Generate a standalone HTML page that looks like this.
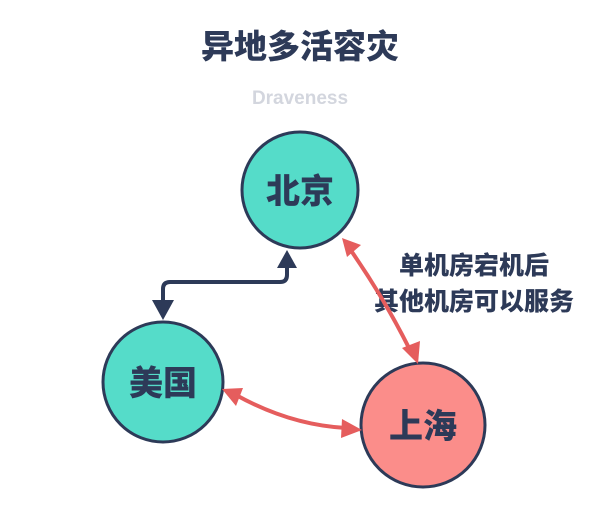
<!DOCTYPE html>
<html><head><meta charset="utf-8"><style>
body{margin:0;background:#fff;width:600px;height:518px;overflow:hidden}
</style></head><body>
<svg width="600" height="518" xmlns="http://www.w3.org/2000/svg" font-family="'Liberation Sans','Noto Sans CJK SC',sans-serif">
<text x="300" y="58" text-anchor="middle" font-size="33" font-weight="900" fill="#2d3a58">异地多活容灾</text>
<text x="300" y="104" text-anchor="middle" font-size="19" font-weight="bold" fill="#d3d6de">Draveness</text>
<circle cx="300" cy="190" r="58" fill="#55dcc9" stroke="#2d3a58" stroke-width="3"/>
<circle cx="163" cy="382" r="60" fill="#55dcc9" stroke="#2d3a58" stroke-width="3"/>
<circle cx="423" cy="425" r="62" fill="#fb8d8a" stroke="#2d3a58" stroke-width="3"/>
<text x="300" y="203" text-anchor="middle" font-size="34" font-weight="900" fill="#2d3a58">北京</text>
<text x="163" y="395" text-anchor="middle" font-size="34" font-weight="900" fill="#2d3a58">美国</text>
<text x="423" y="438" text-anchor="middle" font-size="34" font-weight="900" fill="#2d3a58">上海</text>
<text x="474" y="274" text-anchor="middle" font-size="25" font-weight="900" fill="#2d3a58">单机房宕机后</text>
<text x="474" y="310" text-anchor="middle" font-size="25" font-weight="900" fill="#2d3a58">其他机房可以服务</text>
<path d="M287 268 V275 Q287 282 280 282 H170 Q163 282 163 289 V300" fill="none" stroke="#2d3a58" stroke-width="4"/>
<polygon points="287,250 277,268 297,268" fill="#2d3a58"/>
<polygon points="163,320 152,300 174,300" fill="#2d3a58"/>
<path d="M352 252 Q385 300 409 348" fill="none" stroke="#e55d5d" stroke-width="4"/>
<polygon points="342,238 361,245 347,257" fill="#e55d5d"/>
<polygon points="418,364 402,348 420,341" fill="#e55d5d"/>
<path d="M236 395 Q290 425 346 428" fill="none" stroke="#e55d5d" stroke-width="4"/>
<polygon points="222,389 243,388 236,406" fill="#e55d5d"/>
<polygon points="362,430 342,419 341,438" fill="#e55d5d"/>
</svg>
</body></html>
